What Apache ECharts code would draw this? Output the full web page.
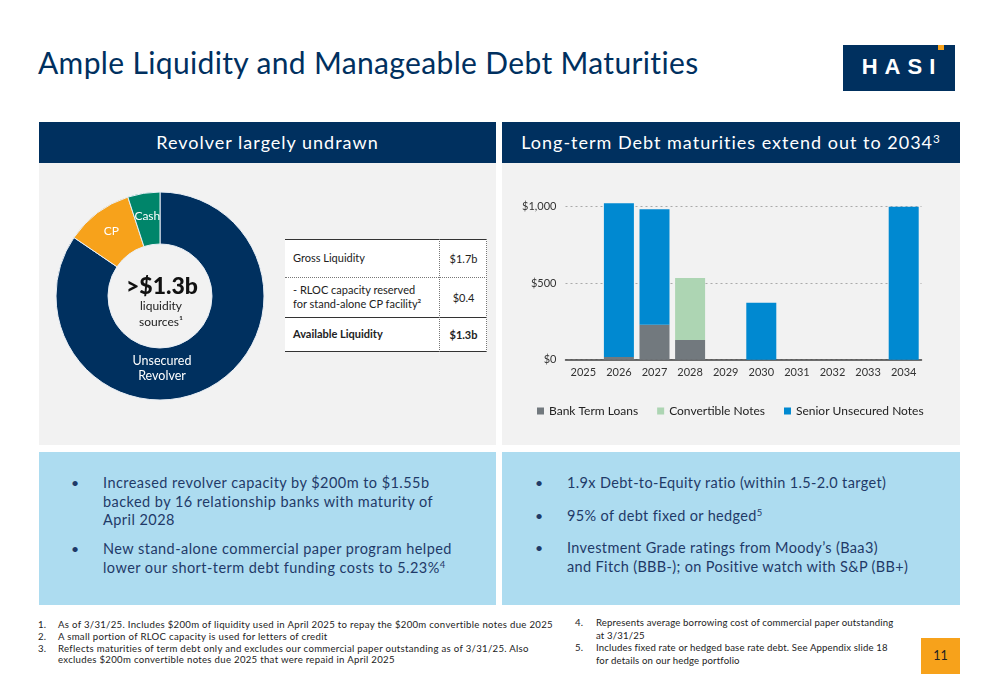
<!DOCTYPE html>
<html><head><meta charset="utf-8">
<script src="https://cdn.jsdelivr.net/npm/echarts@6/dist/echarts.min.js"></script>
<style>
html,body{margin:0;padding:0;width:1000px;height:685px;overflow:hidden;background:#fff;font-family:Lato,"Open Sans",sans-serif;}
.abs{position:absolute;white-space:nowrap;}
#title{left:38px;top:44px;font-size:30px;color:#00305f;letter-spacing:0.35px;}
#logo{left:843px;top:45px;width:112px;height:46px;background:#00305f;}
#logo span{position:absolute;left:0;right:0;top:9px;text-align:center;color:#fff;font-weight:900;font-size:22px;letter-spacing:7px;padding-left:6px;font-family:"Liberation Sans",Arial,sans-serif;}
#logo i{position:absolute;left:95px;top:0;width:6px;height:5px;background:#f7a21b;}
.hdr{top:122px;height:41px;background:#00305f;color:#fff;font-size:18px;text-align:center;line-height:41px;letter-spacing:1px;}
.gray{top:163px;height:282px;background:#f2f2f2;}
.blue{top:452px;height:153px;background:#addcf0;}
.bul{font-size:14.5px;color:#1f3a68;line-height:18.5px;letter-spacing:0.45px;}
.dot{font-size:14px;color:#1f3a68;}
sup{font-size:65%;line-height:0;vertical-align:0.55em;}
.fn{font-size:9.6px;color:#222;line-height:11.8px;letter-spacing:0.15px;}
#tbl{left:285px;top:239px;width:202px;height:113px;background:#fff;font-size:11px;color:#222;}
#chart{position:absolute;left:0;top:0;width:1000px;height:685px;z-index:5;}
</style></head>
<body>
<script>
// ---- data ----
const liquidityNames = ['Unsecured Revolver','CP','Cash'];
const liquidityShares = [84.5, 10.5, 5.0];
const years = ['2025','2026','2027','2028','2029','2030','2031','2032','2033','2034'];
const bankTermLoans = [0, 18, 229, 129, 0, 0, 0, 0, 0, 0];
const convertibleNotes = [0, 0, 0, 405, 0, 0, 0, 0, 0, 0];
const seniorUnsecuredNotes = [0, 1005, 754, 0, 0, 373, 0, 0, 0, 1000];
const yTicks = [0, 500, 1000];
const tableRows = [['Gross Liquidity','$1.7b'],['- RLOC capacity reserved<br>for stand-alone CP facility²','$0.4'],['Available Liquidity','$1.3b']];
</script>

<div class="abs" id="title">Ample Liquidity and Manageable Debt Maturities</div>
<div class="abs" id="logo"><span>HASI</span><i></i></div>

<div class="abs hdr" style="left:39px;width:457px;">Revolver largely undrawn</div>
<div class="abs hdr" style="left:502px;width:458px;">Long-term Debt maturities extend out to 2034<sup>3</sup></div>
<div class="abs gray" style="left:39px;width:457px;"></div>
<div class="abs gray" style="left:502px;width:458px;"></div>

<div class="abs" id="tbl">
  <div style="position:absolute;left:0;right:0;top:0;height:0;border-top:1.5px solid #333;"></div>
  <div style="position:absolute;left:0;right:0;top:38px;height:0;border-top:1px dotted #777;"></div>
  <div style="position:absolute;left:0;right:0;top:78px;height:0;border-top:1.5px solid #333;"></div>
  <div style="position:absolute;left:0;right:0;top:112px;height:0;border-top:1.5px solid #333;"></div>
  <div style="position:absolute;left:154px;top:0;bottom:0;width:0;border-left:1px dotted #777;"></div>
  <div style="position:absolute;right:0;top:0;bottom:0;width:0;border-left:1px dotted #777;"></div>
  <div id="tblRows"></div>
</div>

<div class="abs blue" style="left:39px;width:457px;"></div>
<div class="abs blue" style="left:502px;width:458px;"></div>

<div class="abs dot" style="left:71px;top:474px;">•</div>
<div class="abs bul" style="left:103px;top:474px;">Increased revolver capacity by $200m to $1.55b<br>backed by 16 relationship banks with maturity of<br>April 2028</div>
<div class="abs dot" style="left:71px;top:540px;">•</div>
<div class="abs bul" style="left:103px;top:540px;">New stand-alone commercial paper program helped<br>lower our short-term debt funding costs to 5.23%<sup>4</sup></div>

<div class="abs dot" style="left:535px;top:474px;">•</div>
<div class="abs bul" style="left:567px;top:474px;letter-spacing:0.35px;">1.9x Debt-to-Equity ratio (within 1.5-2.0 target)</div>
<div class="abs dot" style="left:535px;top:507px;">•</div>
<div class="abs bul" style="left:567px;top:507px;letter-spacing:0.35px;">95% of debt fixed or hedged<sup>5</sup></div>
<div class="abs dot" style="left:535px;top:539px;">•</div>
<div class="abs bul" style="left:567px;top:539px;letter-spacing:0.35px;">Investment Grade ratings from Moody’s (Baa3)<br>and Fitch (BBB-); on Positive watch with S&amp;P (BB+)</div>

<div class="abs fn" style="left:38px;top:619px;">1.<br>2.<br>3.</div>
<div class="abs fn" style="left:58px;top:619px;letter-spacing:0.3px;">As of 3/31/25. Includes $200m of liquidity used in April 2025 to repay the $200m convertible notes due 2025<br>A small portion of RLOC capacity is used for letters of credit<br>Reflects maturities of term debt only and excludes our commercial paper outstanding as of 3/31/25. Also<br>excludes $200m convertible notes due 2025 that were repaid in April 2025</div>
<div class="abs fn" style="left:575px;top:617px;line-height:12.6px;">4.<br><br>5.</div>
<div class="abs fn" style="left:596px;top:617px;line-height:12.6px;">Represents average borrowing cost of commercial paper outstanding<br>at 3/31/25<br>Includes fixed rate or hedged base rate debt. See Appendix slide 18<br>for details on our hedge portfolio</div>
<div class="abs" style="left:921px;top:638px;width:39px;height:36px;background:#f7a21b;color:#222;font-size:12.5px;text-align:center;line-height:36px;">11</div>

<div id="chart"></div>
<script>
// table rows
(function(){
  const tops=[0,38,78], hs=[38,40,34];
  let h='';
  tableRows.forEach((r,i)=>{
    const bold = i===2 ? 'font-weight:700;' : '';
    h += '<div style="position:absolute;left:8px;top:'+tops[i]+'px;height:'+hs[i]+'px;display:flex;align-items:center;line-height:14px;'+bold+'"><span>'+r[0]+'</span></div>';
    h += '<div style="position:absolute;left:155px;width:47px;top:'+tops[i]+'px;height:'+hs[i]+'px;display:flex;align-items:center;justify-content:center;'+bold+'">'+r[1]+'</div>';
  });
  document.getElementById('tblRows').innerHTML=h;
})();

const chart = echarts.init(document.getElementById('chart'), null, {renderer:'canvas'});
const pieColors = ['#00305f','#f7a21b','#00856a'];
const yMax = 1100;
chart.setOption({
  backgroundColor:'transparent',
  animation:false,
  textStyle:{fontFamily:'Lato, sans-serif'},
  legend:{
    left:532, top:400, itemWidth:7, itemHeight:7, icon:'rect', itemGap:19,
    textStyle:{fontSize:12, color:'#222'},
    data:['Bank Term Loans','Convertible Notes','Senior Unsecured Notes']
  },
  grid:{left:565.5, right:78.5, top:359.7-153*yMax/1000, height:153*yMax/1000},
  xAxis:{
    type:'category', data:years,
    axisLine:{lineStyle:{color:'#404040',width:1.5}},
    axisTick:{show:false},
    axisLabel:{fontSize:11,color:'#333',margin:7}
  },
  yAxis:{
    type:'value', min:0, max:yMax, interval:500,
    axisLine:{show:false}, axisTick:{show:false},
    axisLabel:{fontSize:11,color:'#333',margin:9,
      formatter:v=> yTicks.indexOf(v)>=0 ? '$'+v.toLocaleString('en-US') : ''},
    splitLine:{showMaxLine:false, lineStyle:{type:[2,3],color:'#aaa',width:1.2}}
  },
  series:[
    {type:'pie', center:[160,296], radius:[52,104], startAngle:90, clockwise:true,
     label:{show:true, position:'inside', color:'#fff', fontSize:12,
       formatter:p=> p.dataIndex===0 ? '' : p.name},
     labelLine:{show:false},
     itemStyle:{borderColor:'#e8eef5', borderWidth:1},
     emphasis:{disabled:true},
     data:liquidityNames.map((n,i)=>({name:n,value:liquidityShares[i],itemStyle:{color:pieColors[i]}}))},
    {name:'Bank Term Loans', type:'bar', stack:'d', barWidth:30, data:bankTermLoans, itemStyle:{color:'#72797e'}},
    {name:'Convertible Notes', type:'bar', stack:'d', barWidth:30, data:convertibleNotes, itemStyle:{color:'#add5b3'}},
    {name:'Senior Unsecured Notes', type:'bar', stack:'d', barWidth:30, data:seniorUnsecuredNotes, itemStyle:{color:'#0089d1'}}
  ],
  graphic:[
    {type:'text', x:162, y:368, z:100, style:{text:liquidityNames[0].replace(' ','\n'), fill:'#fff', font:'12.5px Lato', align:'center', verticalAlign:'middle', lineHeight:15}},
    {type:'text', x:162, y:287, z:100, style:{text:'>$1.3b', fill:'#111', font:'900 23px Lato', align:'center', verticalAlign:'middle'}},
    {type:'text', x:161, y:306, z:100, style:{text:'liquidity', fill:'#222', font:'12px Lato', align:'center', verticalAlign:'middle'}},
    {type:'text', x:161, y:322, z:100, style:{text:'sources¹', fill:'#222', font:'12px Lato', align:'center', verticalAlign:'middle'}}
  ]
});
</script>
</body></html>
